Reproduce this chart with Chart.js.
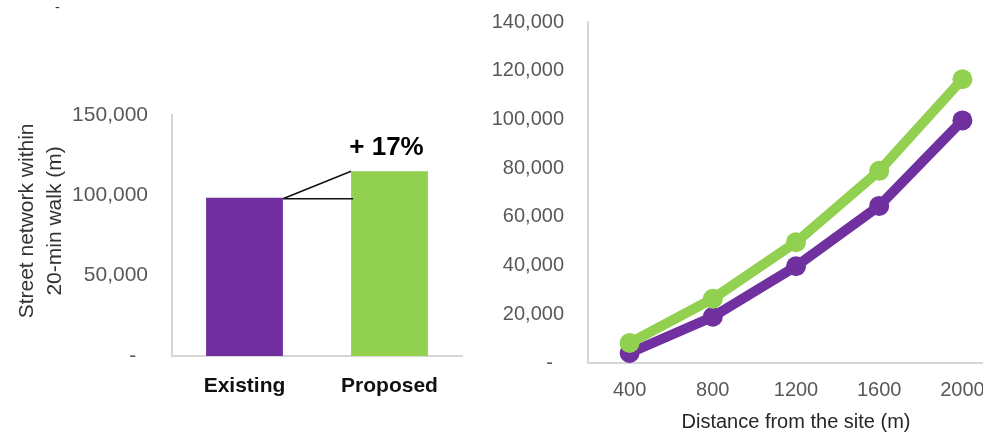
<!DOCTYPE html>
<html>
<head>
<meta charset="utf-8">
<script src="https://cdn.jsdelivr.net/npm/chart.js@4"></script>
<style>
  html, body { margin: 0; padding: 0; background: #fff; overflow: hidden; width: 983px; height: 434px; }
  .box { position: absolute; top: 0; }
  #dash { position: absolute; left: 55px; top: -1px; font: 14px "Liberation Sans", Arial, sans-serif; color: #333; }
</style>
</head>
<body>
<div id="dash">-</div>
<div class="box" style="left:0;width:480px;height:434px;"><canvas id="chart-network-bar" width="480" height="434"></canvas></div>
<div class="box" style="left:480px;width:540px;height:434px;"><canvas id="chart-network-distance" width="540" height="434"></canvas></div>
<script>
// bar chart: existing vs proposed
const barLabels = ['Existing', 'Proposed'];
const barValues = [98500, 115000];
const barColors = ['#7030A0', '#92D050'];

// line chart: network length by walking distance
const distanceLabels = ['400', '800', '1200', '1600', '2000'];
const proposedValues = [8200, 26400, 49600, 78900, 116500];
const existingValues = [4100, 19000, 39700, 64500, 99600];

const FONT = '"Liberation Sans", Arial, sans-serif';
const PURPLE = '#7030A0';
const GREEN = '#92D050';
const AXIS_GREY = '#d6d6d6';
const TICK_GREY = '#595959';

function formatTick(value) {
    if (value === 0) {
        return '-  ';
    }
    return value.toLocaleString('en-US');
}

// keep the plot area where the layout padding puts it
function fitYAxis(width) {
    return function (scale) {
        scale.width = width;
        scale.paddingTop = 0;
        scale.paddingBottom = 0;
    };
}

const bracketPlugin = {
    id: 'bracket',
    afterDatasetsDraw(chart) {
        const ctx = chart.ctx;
        const y = chart.scales.y;
        const bars = chart.getDatasetMeta(0).data;
        const a = bars[0];
        const b = bars[1];
        const x1 = a.x + a.width / 2;
        const x2 = b.x - b.width / 2;
        const y1 = y.getPixelForValue(barValues[0]) + 1;
        const y2 = y.getPixelForValue(barValues[1]);
        const pct = Math.round((barValues[1] / barValues[0] - 1) * 100);

        ctx.save();
        ctx.strokeStyle = '#111';
        ctx.lineWidth = 1.5;
        ctx.beginPath();
        ctx.moveTo(x1, y1);
        ctx.lineTo(x2, y2);
        ctx.moveTo(x1, y1);
        ctx.lineTo(x2 + 2, y1);
        ctx.stroke();

        ctx.font = 'bold 26px ' + FONT;
        ctx.fillStyle = '#000';
        ctx.textAlign = 'center';
        ctx.textBaseline = 'middle';
        ctx.fillText('+ ' + pct + '%', b.x - 3, y2 - 23);
        ctx.restore();
    }
};

new Chart(document.getElementById('chart-network-bar'), {
    type: 'bar',
    data: {
        labels: barLabels,
        datasets: [{
            data: barValues,
            backgroundColor: barColors,
            barPercentage: 0.53,
            categoryPercentage: 1
        }]
    },
    options: {
        responsive: false,
        animation: false,
        layout: { padding: { top: 115, right: 18, left: 0, bottom: 0 } },
        plugins: {
            legend: { display: false },
            tooltip: { enabled: false }
        },
        scales: {
            y: {
                min: 0,
                max: 150000,
                afterFit: fitYAxis(172),
                ticks: {
                    stepSize: 50000,
                    padding: 24,
                    color: TICK_GREY,
                    font: { family: FONT, size: 21 },
                    callback: formatTick
                },
                grid: { display: false, drawTicks: false },
                border: { display: true, color: AXIS_GREY, width: 2 },
                title: {
                    display: true,
                    text: ['     Street network within', '     20-min walk (m)'],
                    color: '#333',
                    font: { family: FONT, size: 21, lineHeight: 1.3 },
                    padding: { top: 14, bottom: 0 }
                }
            },
            x: {
                afterFit: function (scale) { scale.height = 78; },
                ticks: {
                    padding: 18,
                    color: '#111',
                    font: { family: FONT, size: 21, weight: 'bold' }
                },
                grid: { display: false, drawTicks: false },
                border: { display: true, color: AXIS_GREY, width: 2 }
            }
        }
    },
    plugins: [bracketPlugin]
});

new Chart(document.getElementById('chart-network-distance'), {
    type: 'line',
    data: {
        labels: distanceLabels,
        datasets: [{
            label: 'Proposed',
            data: proposedValues,
            borderColor: GREEN,
            backgroundColor: GREEN,
            borderWidth: 10,
            pointRadius: 10,
            pointBorderWidth: 0
        },
        {
            label: 'Existing',
            data: existingValues,
            borderColor: PURPLE,
            backgroundColor: PURPLE,
            borderWidth: 10,
            pointRadius: 10,
            pointBorderWidth: 0
        }]
    },
    options: {
        responsive: false,
        animation: false,
        layout: { padding: { top: 22, right: 16, left: 0, bottom: 0 } },
        plugins: {
            legend: { display: false },
            tooltip: { enabled: false }
        },
        scales: {
            y: {
                min: 0,
                max: 140000,
                afterFit: fitYAxis(108),
                ticks: {
                    stepSize: 20000,
                    padding: 24,
                    color: TICK_GREY,
                    font: { family: FONT, size: 20 },
                    callback: formatTick
                },
                grid: { display: false, drawTicks: false },
                border: { display: true, color: AXIS_GREY, width: 2 }
            },
            x: {
                offset: true,
                afterFit: function (scale) { scale.height = 71; },
                ticks: {
                    padding: 15,
                    color: TICK_GREY,
                    font: { family: FONT, size: 20 }
                },
                grid: { display: false, drawTicks: false },
                border: { display: true, color: AXIS_GREY, width: 2 },
                title: {
                    display: true,
                    text: 'Distance from the site (m)',
                    color: '#262626',
                    font: { family: FONT, size: 20 },
                    padding: { top: 6, bottom: 0 }
                }
            }
        }
    }
});
</script>
</body>
</html>
